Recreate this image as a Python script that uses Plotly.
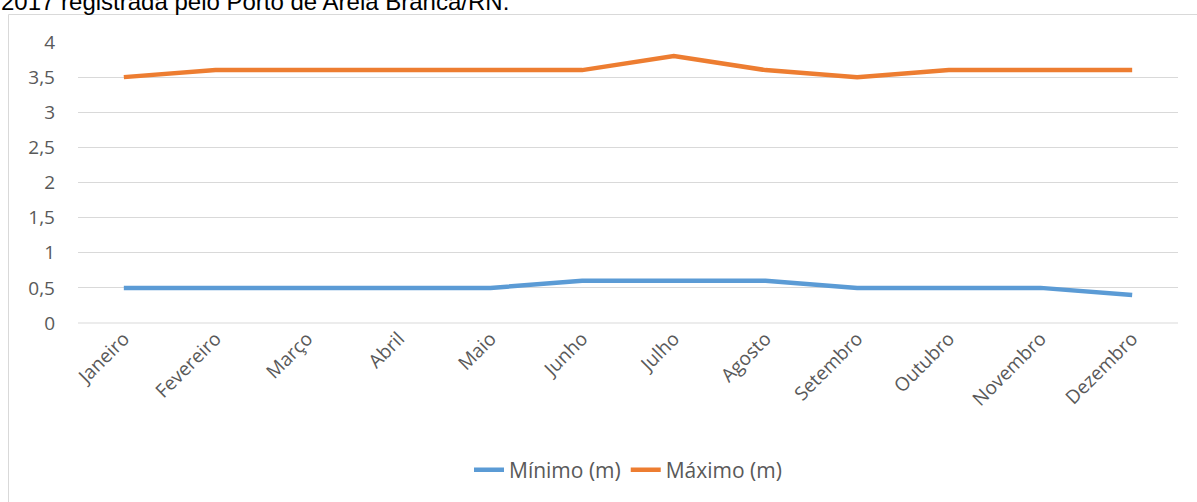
import plotly.graph_objects as go

months = ["Janeiro", "Fevereiro", "Março", "Abril", "Maio", "Junho", "Julho",
          "Agosto", "Setembro", "Outubro", "Novembro", "Dezembro"]
minimo = [0.5, 0.5, 0.5, 0.5, 0.5, 0.6, 0.6, 0.6, 0.5, 0.5, 0.5, 0.4]
maximo = [3.5, 3.6, 3.6, 3.6, 3.6, 3.6, 3.8, 3.6, 3.5, 3.6, 3.6, 3.6]
y_ticks = [0, 0.5, 1, 1.5, 2, 2.5, 3, 3.5, 4]
y_labels = ["0", "0,5", "1", "1,5", "2", "2,5", "3", "3,5", "4"]
title_text = "2017 registrada pelo Porto de Areia Branca/RN."

W, H = 1197, 502
L, R, T, B = 78, 19, 42, 179
pw, ph = W - L - R, H - T - B

def px_x(p):
    return (p - L) / pw

def px_y(p):
    return (H - B - p) / ph

fig = go.Figure()
fig.add_trace(go.Scatter(x=months, y=minimo, mode="lines", name="Mínimo (m)",
                         line=dict(color="#5B9BD5", width=4.5)))
fig.add_trace(go.Scatter(x=months, y=maximo, mode="lines", name="Máximo (m)",
                         line=dict(color="#ED7D31", width=4.5)))

fig.update_layout(
    width=W, height=H,
    margin=dict(l=L, r=R, t=T, b=B),
    paper_bgcolor="white", plot_bgcolor="white",
    font=dict(family="Open Sans", size=19, color="#595959"),
    xaxis=dict(type="category", tickangle=-45, showgrid=False, showline=False,
               zeroline=False, ticks="", tickfont=dict(size=19, color="#595959"),
               range=[-0.5, 11.5]),
    yaxis=dict(range=[0, 4], tickvals=y_ticks, ticktext=y_labels,
               showgrid=True, gridcolor="#D9D9D9", gridwidth=1,
               zeroline=False, showline=False, ticks="", ticklabelstandoff=22,
               tickfont=dict(size=19, color="#595959")),
    legend=dict(orientation="h", x=0.5, xanchor="center", y=px_y(470), yanchor="middle",
                font=dict(size=21, color="#595959"), tracegroupgap=0),
    showlegend=True,
)
fig.add_shape(type="line", xref="paper", yref="paper", x0=0, x1=1, y0=0, y1=0,
              line=dict(color="#D9D9D9", width=1), layer="below")
fig.add_shape(type="rect", xref="paper", yref="paper",
              x0=px_x(8.5), x1=px_x(1210), y0=px_y(14.5), y1=px_y(520),
              line=dict(color="#D9D9D9", width=1), fillcolor="rgba(0,0,0,0)")
fig.add_annotation(text=title_text, xref="paper", yref="paper",
                   x=px_x(-1), y=px_y(17), xanchor="left", yanchor="bottom",
                   showarrow=False, font=dict(family="Liberation Sans", size=24, color="#000000"))

fig.write_html("out.html")
